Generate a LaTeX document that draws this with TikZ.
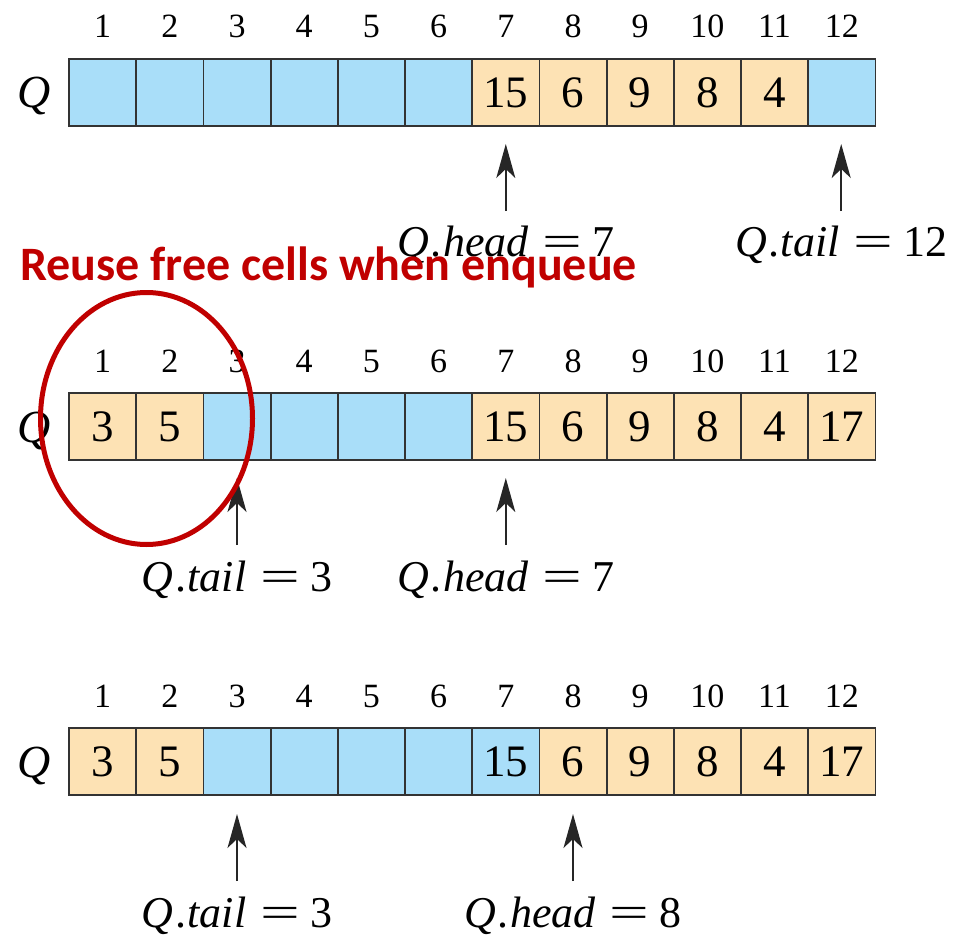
\documentclass[tikz,border=0pt]{standalone}
\usepackage{fontspec}
\setmainfont{Liberation Serif}
\newfontfamily\redfont{Carlito}
\usepackage{graphicx}
\usetikzlibrary{arrows.meta}
\definecolor{qblue}{HTML}{A9DEF9}
\definecolor{qorange}{HTML}{FDE2B4}
\definecolor{qred}{HTML}{C00000}
\definecolor{qline}{HTML}{333333}
\newcommand{\myeq}{\hspace{14pt}\scalebox{1.6}[1]{=}\hspace{10pt}}
\newcommand{\mydot}{\hspace{1.5pt}.\hspace{1.5pt}}
\begin{document}
\begin{tikzpicture}[x=1pt,y=-1pt,
 cellbox/.style={draw=qline,line width=1.8pt,minimum width=67.2pt,minimum height=67pt,inner sep=0pt,outer sep=0pt,anchor=north west,font=\fontsize{45}{45}\selectfont},
 freec/.style={cellbox,fill=qblue},
 usedc/.style={cellbox,fill=qorange},
 idx/.style={anchor=base,inner sep=0pt,font=\fontsize{34}{34}\selectfont},
 qlbl/.style={anchor=base,inner sep=0pt,font=\fontsize{46}{46}\selectfont\itshape},
 ptrlbl/.style={anchor=base,inner sep=0pt,font=\fontsize{44}{44}\selectfont},
 ptr/.style={line width=1.5pt,draw=black!85,-{Stealth[length=34pt,width=19pt,inset=9pt]}}]
\useasboundingbox (0,0) rectangle (960,944);
% row 1
\foreach \i/\v/\s in {1//freec,2//freec,3//freec,4//freec,5//freec,6//freec,7/15/usedc,8/6/usedc,9/9/usedc,10/8/usedc,11/4/usedc,12//freec}
  \node[\s] (a\i) at ({69+(\i-1)*67.2},59) {\v};
% row 2
\foreach \i/\v/\s in {1/3/usedc,2/5/usedc,3//freec,4//freec,5//freec,6//freec,7/15/usedc,8/6/usedc,9/9/usedc,10/8/usedc,11/4/usedc,12/17/usedc}
  \node[\s] (b\i) at ({69+(\i-1)*67.2},393) {\v};
% row 3
\foreach \i/\v/\s in {1/3/usedc,2/5/usedc,3//freec,4//freec,5//freec,6//freec,7/15/freec,8/6/usedc,9/9/usedc,10/8/usedc,11/4/usedc,12/17/usedc}
  \node[\s] (c\i) at ({69+(\i-1)*67.2},728) {\v};
% indices
\foreach \i in {1,...,12}{
  \node[idx] (ia\i) at ({69+(\i-0.5)*67.2},38) {\i};
  \node[idx] (ib\i) at ({69+(\i-0.5)*67.2},372) {\i};
  \node[idx] (ic\i) at ({69+(\i-0.5)*67.2},707) {\i};
}
% Q labels
\node[qlbl] (qa) at (34,108) {Q};
\node[qlbl] (qb) at (34,442) {Q};
\node[qlbl] (qc) at (34,777) {Q};
% pointer labels
\node[ptrlbl] (ha) at (505.8,256) {\textit{Q}\mydot\textit{head}\myeq 7};
\node[ptrlbl] (ta) at (841.2,256) {\textit{Q}\mydot\textit{tail}\myeq 12};
\node[ptrlbl] (tb) at (237,591) {\textit{Q}\mydot\textit{tail}\myeq 3};
\node[ptrlbl] (hb) at (505.8,591) {\textit{Q}\mydot\textit{head}\myeq 7};
\node[ptrlbl] (tc) at (237,927) {\textit{Q}\mydot\textit{tail}\myeq 3};
\node[ptrlbl] (hc) at (573,927) {\textit{Q}\mydot\textit{head}\myeq 8};
% arrow ends
\coordinate (ha0) at (505.8,211); \coordinate (ha1) at (505.8,144);
\coordinate (ta0) at (841.2,211); \coordinate (ta1) at (841.2,144);
\coordinate (tb0) at (237,545);   \coordinate (tb1) at (237,478);
\coordinate (hb0) at (505.8,545); \coordinate (hb1) at (505.8,478);
\coordinate (tc0) at (237,881);   \coordinate (tc1) at (237,814);
\coordinate (hc0) at (573,881);   \coordinate (hc1) at (573,814);
\foreach \p in {ha,ta,tb,hb,tc,hc}
  \draw[ptr] (\p0) -- (\p1);
% highlight
\draw[qred,line width=5pt] (146.5,418.5) ellipse [x radius=106, y radius=126];
\node[anchor=base west,inner sep=0pt,text=qred,font=\redfont\bfseries\fontsize{48}{48}\selectfont] (note) at (20,280) {Reuse free cells when enqueue};
\end{tikzpicture}
\end{document}
